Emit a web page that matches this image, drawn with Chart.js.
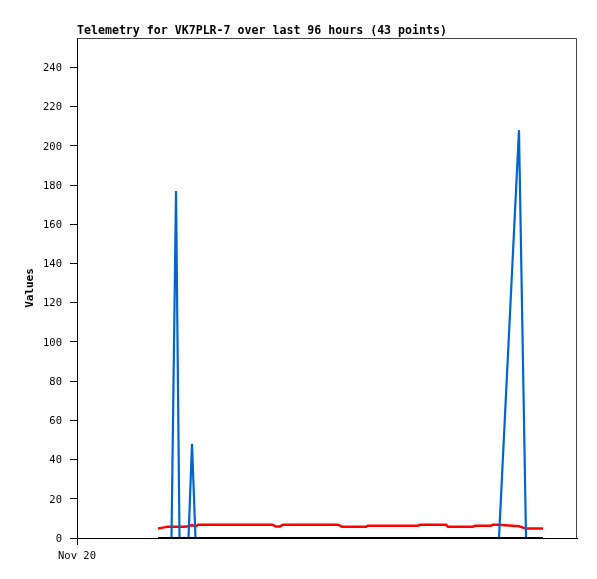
<!DOCTYPE html>
<html lang="en">
<head>
  <meta charset="UTF-8" />
  <title>Telemetry VK7PLR-7</title>
  <script src="https://cdn.jsdelivr.net/npm/chart.js"></script>
  <style>
    body {
      margin: 0;
      padding: 0;
      background: #fff;
    }
    .wrap {
      width: 597px;
      height: 579px;
    }
  </style>
</head>
<body>
  <div class="wrap">
    <canvas id="grafico" width="597" height="579"></canvas>
  </div>

  <script>
    // hours since Nov 20 00:00
    const horas = [
      15.55, 16.51, 17.47, 18.14, 19.01, 19.68, 20.54, 21.41, 22.08, 22.75,
      23.23, 26.50, 30.34, 34.18, 37.44, 38.21, 38.98, 39.55, 42.82, 44.00,
      46.66, 50.11, 50.88, 55.49, 55.87, 60.10, 65.47, 65.86, 70.85, 71.23,
      73.60, 76.03, 76.42, 79.49, 79.87, 81.02, 84.86, 86.21, 86.98, 87.74,
      88.51, 89.09, 89.47
    ];
    const serieAzul = [
      0, 0, 0, 0, 177, 0, 0, 0, 48, 0,
      0, 0, 0, 0, 0, 0, 0, 0, 0, 0,
      0, 0, 0, 0, 0, 0, 0, 0, 0, 0,
      0, 0, 0, 0, 0, 0, 208, 0, 0, 0,
      0, 0, 0
    ];
    const serieRoja = [
      4.8, 5.3, 5.8, 5.8, 5.8, 5.8, 5.8, 6.0, 6.6, 5.8,
      6.8, 6.8, 6.8, 6.8, 6.8, 5.9, 5.9, 6.8, 6.8, 6.8,
      6.8, 6.8, 5.8, 5.8, 6.3, 6.3, 6.3, 6.8, 6.8, 5.8,
      5.8, 5.8, 6.3, 6.3, 6.8, 6.8, 6.0, 4.8, 4.8, 4.8,
      4.8, 4.8, 4.8
    ];
    const serieNegra = [
      0, 0, 0, 0, 0, 0, 0, 0, 0, 0,
      0, 0, 0, 0, 0, 0, 0, 0, 0, 0,
      0, 0, 0, 0, 0, 0, 0, 0, 0, 0,
      0, 0, 0, 0, 0, 0, 0, 0, 0, 0,
      0, 0, 0
    ];
    const titulo = 'Telemetry for VK7PLR-7 over last 96 hours (43 points)';
    const etiquetaX = 'Nov 20';

    const puntos = (vals) => horas.map((h, i) => ({ x: h, y: vals[i] }));

    const marco = {
      id: 'marco',
      afterDraw(chart) {
        const { ctx, chartArea: a } = chart;
        ctx.save();
        ctx.strokeStyle = '#444';
        ctx.lineWidth = 1;
        ctx.beginPath();
        ctx.moveTo(a.left, a.top + 0.5);
        ctx.lineTo(a.right - 0.5, a.top + 0.5);
        ctx.lineTo(a.right - 0.5, a.bottom);
        ctx.stroke();
        ctx.font = 'bold 11.6px "DejaVu Sans Mono", monospace';
        ctx.fillStyle = '#000';
        ctx.textAlign = 'left';
        ctx.textBaseline = 'alphabetic';
        ctx.fillText(titulo, 77, 34);
        ctx.restore();
      }
    };

    const linea = (data, color, ancho) => ({
      data: puntos(data),
      borderColor: color,
      backgroundColor: color,
      borderWidth: ancho,
      pointRadius: 0,
      tension: 0,
      fill: false
    });

    new Chart(document.getElementById('grafico').getContext('2d'), {
      type: 'line',
      data: {
        datasets: [
          linea(serieNegra, '#000000', 2),
          linea(serieAzul, '#0066cc', 2.2),
          linea(serieRoja, '#ff0000', 2.5)
        ]
      },
      options: {
        responsive: false,
        animation: false,
        layout: { padding: { left: 0, top: 38, right: 20, bottom: 0 } },
        plugins: {
          legend: { display: false },
          tooltip: { enabled: false }
        },
        scales: {
          x: {
            type: 'linear',
            min: 0,
            max: 96,
            afterBuildTicks(axis) { axis.ticks = [{ value: 0 }]; },
            afterFit(axis) { axis.height = 41; },
            ticks: {
              callback: () => etiquetaX,
              maxRotation: 0,
              padding: 5,
              color: '#000',
              font: { family: '"DejaVu Sans Mono", monospace', size: 10.5 }
            },
            grid: { drawOnChartArea: false, drawTicks: true, tickLength: 7, color: '#000' },
            border: { color: '#000', width: 1 }
          },
          y: {
            min: 0,
            max: 255,
            afterBuildTicks(axis) {
              axis.ticks = axis.ticks.filter(t => t.value % 20 === 0);
            },
            afterFit(axis) { axis.width = 77; },
            ticks: {
              stepSize: 20,
              padding: 8,
              labelOffset: 1,
              color: '#000',
              font: { family: '"DejaVu Sans Mono", monospace', size: 10.5 }
            },
            grid: { drawOnChartArea: false, drawTicks: true, tickLength: 7, color: '#000' },
            border: { color: '#000', width: 1 },
            title: {
              display: true,
              text: 'Values',
              color: '#000',
              padding: { top: 24, bottom: 0 },
              font: { family: '"DejaVu Sans Mono", monospace', size: 11, weight: 'bold' }
            }
          }
        }
      },
      plugins: [marco]
    });
  </script>
</body>
</html>
